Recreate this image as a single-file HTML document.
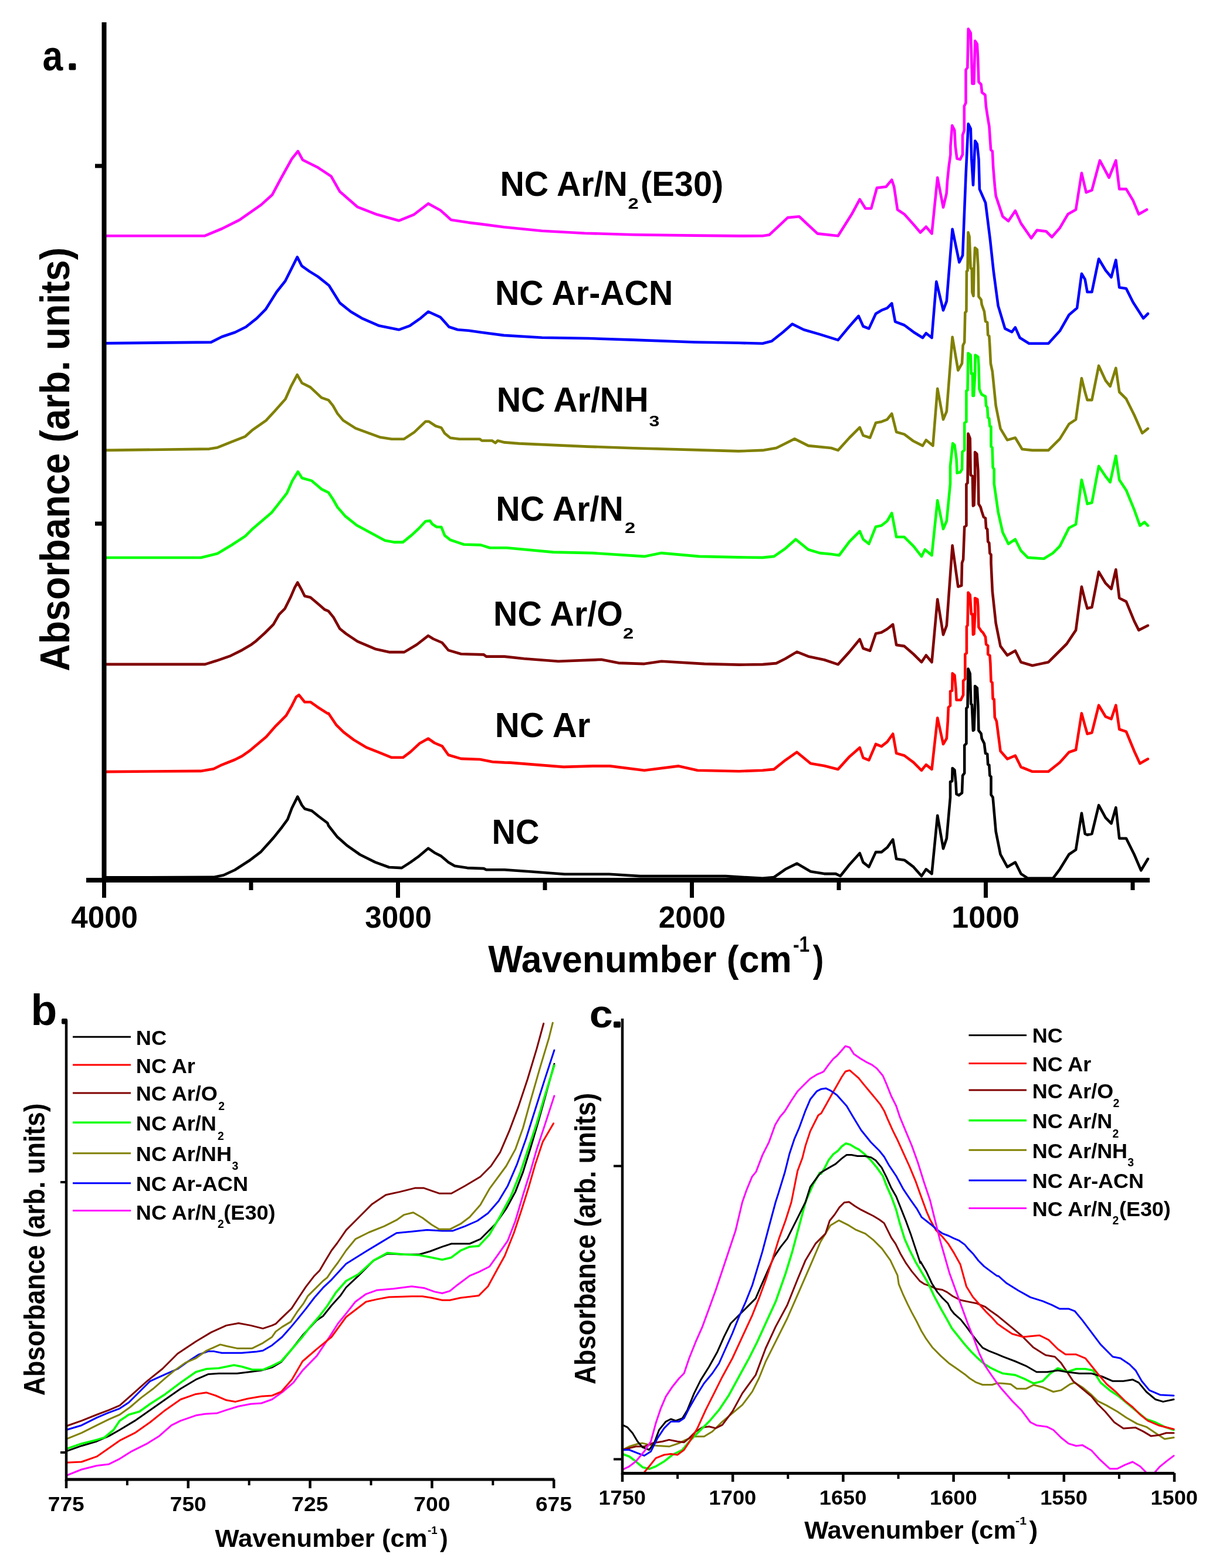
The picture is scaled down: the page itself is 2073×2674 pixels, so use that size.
<!DOCTYPE html>
<html><head><meta charset="utf-8"><style>html,body{margin:0;padding:0;background:#fff}svg{display:block}</style></head>
<body><svg width="2073" height="2674" viewBox="0 0 2073 2674">
<rect width="2073" height="2674" fill="#fff"/>
<polyline points="179.3,402.3 348.6,402.3 378.4,390.0 408.2,375.1 445.4,349.1 464.0,332.3 478.9,304.4 497.5,270.9 507.9,257.9 516.1,272.8 542.2,285.8 564.5,300.7 579.4,326.8 609.2,352.8 642.6,365.8 679.9,376.3 705.9,365.8 730.1,347.2 750.6,358.4 769.2,375.1 799.0,379.6 820.0,382.1 859.0,387.3 924.0,393.8 996.7,397.7 1079.9,400.3 1183.8,401.6 1259.2,402.4 1300.0,402.3 1311.7,400.4 1342.9,371.1 1362.4,369.2 1393.6,398.4 1428.7,402.3 1452.0,365.3 1465.7,339.9 1475.4,355.5 1485.2,355.5 1494.9,320.4 1510.5,318.5 1520.3,306.8 1524.2,318.5 1530.0,357.5 1541.7,365.3 1557.3,382.8 1569.0,396.5 1578.8,386.7 1588.5,398.4 1598.2,302.9 1608.0,353.6 1613.6,330.0 1615.0,308.8 1617.7,282.7 1620.4,263.5 1620.4,249.8 1623.2,214.0 1627.3,222.3 1628.7,249.8 1631.4,270.4 1636.9,271.8 1641.0,263.5 1641.0,230.5 1643.8,222.3 1643.8,181.1 1646.5,175.6 1646.5,119.3 1649.3,115.2 1650.7,49.2 1654.8,56.1 1656.2,98.7 1657.5,142.6 1660.3,142.6 1661.6,98.7 1662.3,69.8 1665.8,75.3 1667.1,98.7 1668.5,139.9 1672.6,144.0 1674.0,157.7 1679.5,161.9 1680.9,181.1 1683.6,199.0 1686.4,215.4 1689.1,255.3 1691.9,258.0 1693.2,285.5 1696.0,318.5 1697.7,334.1 1709.4,369.2 1719.1,377.0 1730.8,359.4 1740.5,380.9 1758.1,406.2 1767.8,392.6 1783.4,394.5 1793.2,404.3 1806.8,388.7 1820.5,365.3 1834.1,357.5 1843.9,295.1 1851.7,328.2 1861.4,324.3 1875.0,273.7 1890.6,302.9 1902.3,273.7 1908.2,322.4 1919.9,322.4 1931.6,341.9 1941.3,365.3 1955.0,357.5" fill="none" stroke="#ff00ff" stroke-width="4.6" stroke-linejoin="round" stroke-linecap="round" />
<polyline points="179.3,585.4 359.8,583.6 378.4,574.3 400.7,566.8 419.3,557.5 438.0,542.6 452.8,527.7 471.5,498.0 486.3,479.3 497.5,457.0 506.8,438.4 514.3,453.3 527.3,462.6 542.2,471.9 560.8,486.8 579.4,516.6 598.0,531.5 616.6,542.6 646.4,555.6 679.9,562.3 698.5,555.6 717.1,542.6 730.1,531.5 750.6,540.8 765.5,557.5 780.3,562.3 799.0,563.8 820.0,566.7 859.0,571.9 924.0,575.7 1001.9,577.0 1079.9,579.6 1183.8,583.5 1259.2,584.8 1300.0,585.7 1315.6,581.8 1335.1,566.2 1350.7,552.6 1370.2,562.3 1397.5,570.1 1428.7,579.9 1448.1,556.5 1463.7,538.9 1471.5,556.5 1481.3,560.4 1493.0,535.0 1502.7,529.2 1512.5,525.3 1520.3,517.5 1526.1,548.7 1541.7,554.5 1557.3,566.2 1572.9,576.0 1578.8,568.2 1588.5,576.0 1596.3,480.4 1608.0,529.2 1613.8,513.6 1623.6,390.8 1635.3,447.3 1641.1,435.6 1646.5,300.0 1650.7,211.3 1654.8,219.6 1656.2,270.4 1659.0,315.7 1662.3,240.2 1665.8,245.7 1668.5,271.8 1669.9,322.6 1680.1,345.9 1687.9,408.3 1693.8,462.9 1701.6,521.4 1713.3,560.4 1725.0,566.2 1730.8,558.4 1738.6,576.0 1754.2,585.7 1787.3,585.7 1806.8,564.3 1822.4,537.0 1836.1,525.3 1843.9,466.8 1849.7,476.5 1853.6,498.0 1861.4,498.0 1873.1,441.5 1884.8,461.0 1894.5,472.7 1902.3,443.4 1908.2,490.2 1919.9,492.1 1931.6,515.5 1949.1,542.8 1956.9,535.0" fill="none" stroke="#0000ff" stroke-width="4.6" stroke-linejoin="round" stroke-linecap="round" />
<polyline points="179.5,767.9 356.7,765.6 370.8,763.2 394.5,753.7 418.1,744.3 429.9,733.7 453.5,717.1 467.7,701.8 486.6,680.5 496.0,659.2 506.7,639.1 514.9,653.3 529.1,660.4 548.0,678.1 560.0,682.3 567.7,691.9 575.4,705.4 585.0,716.9 606.2,730.4 627.3,738.1 648.5,745.8 667.7,748.7 688.8,748.7 706.2,737.1 725.4,718.8 731.2,718.8 742.7,726.5 752.3,729.4 758.1,739.0 767.7,746.7 783.1,748.7 817.7,748.7 821.5,751.5 838.8,751.5 844.6,755.4 848.5,751.5 860.0,754.4 885.0,756.4 1001.9,761.6 1079.9,764.2 1259.2,769.4 1300.0,767.9 1323.4,764.0 1339.0,756.2 1354.6,748.4 1378.0,760.1 1417.0,764.0 1428.7,767.9 1448.1,746.5 1465.7,728.9 1471.5,742.6 1483.2,746.5 1493.0,721.1 1502.7,719.2 1512.5,715.3 1520.3,705.5 1528.1,736.7 1541.7,740.6 1557.3,752.3 1572.9,760.1 1578.8,750.4 1590.4,760.1 1598.2,662.7 1608.0,715.3 1613.8,701.6 1623.6,574.9 1633.3,631.5 1640.0,619.9 1641.6,589.0 1644.2,583.7 1645.3,533.2 1647.4,531.0 1647.9,462.6 1649.5,461.6 1650.5,396.3 1652.6,403.7 1654.7,457.4 1656.8,458.4 1657.4,498.4 1659.5,504.7 1660.5,457.4 1662.1,422.6 1665.8,425.8 1667.4,454.2 1668.4,505.8 1672.6,511.1 1673.7,519.5 1677.9,531.0 1680.0,547.9 1683.2,550.0 1684.2,571.1 1686.3,573.2 1687.4,590.0 1688.9,619.9 1691.8,633.4 1697.7,691.9 1705.5,730.9 1717.2,750.4 1730.8,746.5 1742.5,766.0 1760.0,767.9 1787.3,767.9 1806.8,748.4 1822.4,723.1 1834.1,715.3 1843.9,645.1 1849.7,668.5 1853.6,682.1 1861.4,682.1 1873.1,623.7 1884.8,649.0 1892.6,658.8 1902.3,627.6 1908.2,668.5 1919.9,680.2 1933.5,707.5 1947.2,738.7 1956.9,730.9" fill="none" stroke="#808000" stroke-width="4.6" stroke-linejoin="round" stroke-linecap="round" />
<polyline points="179.5,951.0 342.5,951.0 370.8,943.9 394.5,929.8 418.1,914.4 429.9,902.6 463.0,874.2 472.4,862.4 489.0,841.2 498.4,819.9 507.9,804.5 514.9,815.2 531.5,819.9 548.0,834.1 560.0,840.0 567.7,851.5 575.4,865.0 588.8,880.4 608.1,895.8 633.1,909.2 656.2,921.7 671.5,924.6 686.9,924.6 702.3,912.1 713.8,901.5 725.4,889.0 733.1,888.1 736.9,893.8 744.6,898.7 752.3,898.7 758.1,913.1 767.7,920.8 779.2,924.6 790.8,928.5 819.6,929.4 835.0,934.2 860.0,934.2 864.0,934.3 943.1,941.6 1010.5,943.1 1098.4,948.9 1127.7,943.1 1192.2,948.9 1260.1,950.4 1300.0,950.9 1319.5,948.9 1339.0,935.3 1356.5,919.7 1378.0,937.2 1397.5,943.1 1417.0,945.0 1430.6,947.0 1448.1,923.6 1465.7,906.0 1471.5,919.7 1481.3,927.5 1493.0,898.2 1502.7,896.3 1512.5,888.5 1520.3,874.9 1528.1,915.8 1541.7,915.8 1557.3,931.4 1571.0,948.9 1576.8,937.2 1588.5,947.0 1598.2,853.4 1608.0,902.1 1613.8,888.5 1620.0,824.9 1620.0,795.0 1624.2,756.1 1627.4,759.2 1630.5,782.4 1631.6,806.6 1636.8,805.5 1640.0,800.3 1640.5,770.8 1644.2,767.6 1644.2,721.3 1647.4,719.2 1647.4,666.6 1649.5,665.5 1650.5,602.4 1654.7,605.5 1655.8,637.1 1657.9,637.1 1658.4,675.0 1660.0,675.0 1662.1,639.2 1662.6,605.5 1667.4,608.7 1668.4,622.4 1669.5,663.4 1671.6,668.7 1673.7,672.9 1680.0,676.0 1681.1,691.8 1683.2,695.0 1684.2,711.8 1686.3,713.9 1687.4,726.6 1689.5,727.6 1689.5,761.3 1691.6,763.4 1692.6,797.1 1694.7,800.3 1694.7,824.9 1701.6,872.9 1709.4,908.0 1719.1,927.5 1730.8,919.7 1740.5,939.2 1752.2,950.9 1779.5,952.8 1795.1,943.1 1806.8,931.4 1822.4,900.2 1834.1,894.3 1843.9,818.3 1849.7,841.7 1853.6,859.3 1861.4,857.3 1873.1,794.9 1884.8,812.5 1892.6,822.2 1902.3,777.4 1908.2,818.3 1919.9,835.9 1933.5,869.0 1943.3,896.3 1951.1,890.4 1956.9,896.3" fill="none" stroke="#00ff00" stroke-width="4.6" stroke-linejoin="round" stroke-linecap="round" />
<polyline points="179.7,1132.9 349.6,1132.9 369.0,1126.8 393.3,1118.3 412.7,1108.6 427.2,1100.1 436.9,1092.8 451.5,1079.5 466.1,1064.9 475.8,1047.9 485.5,1038.2 495.2,1018.8 502.5,1001.8 507.3,993.3 514.6,1006.7 519.4,1016.4 529.2,1018.8 543.7,1031.0 553.4,1039.5 560.0,1042.2 568.6,1052.9 579.4,1072.3 590.1,1080.9 609.5,1093.8 639.6,1106.7 663.3,1112.1 689.1,1112.1 710.6,1099.2 730.0,1084.1 738.6,1089.5 753.7,1096.0 764.4,1108.9 786.0,1115.3 824.7,1116.4 829.0,1119.6 860.0,1119.6 893.3,1123.3 951.9,1127.7 1025.1,1124.8 1054.4,1130.6 1098.4,1132.1 1127.7,1127.7 1201.0,1132.1 1260.1,1133.6 1300.0,1133.1 1323.4,1131.1 1339.0,1123.3 1358.5,1111.6 1378.0,1119.4 1405.3,1125.3 1428.7,1133.1 1448.1,1111.6 1465.7,1090.2 1471.5,1105.8 1483.2,1109.7 1493.0,1080.4 1502.7,1078.5 1512.5,1072.7 1522.2,1064.9 1528.1,1099.9 1541.7,1101.9 1557.3,1115.5 1571.0,1129.2 1578.8,1117.5 1588.5,1129.2 1598.2,1022.0 1608.0,1082.4 1613.8,1066.8 1623.6,930.4 1633.3,1000.5 1639.2,998.6 1640.0,959.9 1642.1,954.2 1644.2,898.4 1647.4,896.3 1647.4,825.8 1649.5,823.7 1650.5,739.5 1653.7,747.9 1654.7,810.0 1657.9,812.1 1658.9,862.6 1660.5,861.6 1662.1,810.0 1662.1,771.1 1665.3,774.2 1667.4,802.6 1668.4,859.5 1671.6,864.7 1673.7,872.1 1676.8,881.6 1680.0,883.7 1681.1,900.5 1683.2,902.6 1684.2,923.7 1686.3,925.8 1687.4,943.7 1689.5,945.8 1689.5,959.9 1691.8,1008.3 1697.7,1062.9 1705.5,1101.9 1717.2,1117.5 1730.8,1109.7 1740.5,1129.2 1760.0,1135.0 1787.3,1129.2 1799.0,1117.5 1818.5,1098.0 1834.1,1074.6 1843.9,1000.5 1849.7,1023.9 1853.6,1037.6 1861.4,1035.6 1873.1,975.2 1884.8,994.7 1894.5,1004.4 1902.3,971.3 1908.2,1020.0 1919.9,1025.9 1933.5,1059.0 1941.3,1074.6 1956.9,1066.8" fill="none" stroke="#800000" stroke-width="4.6" stroke-linejoin="round" stroke-linecap="round" />
<polyline points="179.7,1316.1 342.3,1314.9 364.1,1311.2 376.3,1305.2 400.5,1295.5 412.7,1289.4 424.8,1280.9 439.4,1268.8 453.9,1256.6 468.5,1239.7 475.8,1232.4 487.9,1220.2 497.6,1203.3 504.9,1188.7 509.7,1185.1 519.4,1197.2 529.2,1197.2 541.3,1205.7 558.3,1216.6 560.0,1216.5 572.9,1235.8 585.8,1248.7 603.0,1261.6 624.6,1274.6 646.1,1283.2 667.6,1291.8 687.0,1291.8 699.9,1282.1 714.9,1268.1 730.0,1259.5 740.8,1267.0 753.7,1272.4 764.4,1287.5 786.0,1293.9 818.2,1295.0 839.8,1299.3 860.0,1300.4 869.8,1300.6 960.7,1307.9 1010.5,1306.4 1039.8,1306.4 1098.4,1313.8 1157.0,1306.4 1189.2,1313.8 1260.1,1315.2 1300.0,1313.8 1319.5,1311.9 1339.0,1296.3 1358.5,1282.7 1381.9,1302.1 1405.3,1306.0 1428.7,1311.9 1448.1,1290.4 1465.7,1274.9 1471.5,1292.4 1481.3,1296.3 1493.0,1269.0 1502.7,1272.9 1512.5,1265.1 1522.2,1251.5 1528.1,1284.6 1541.7,1288.5 1557.3,1300.2 1571.0,1313.8 1578.8,1304.1 1588.5,1311.9 1598.2,1224.2 1608.0,1269.0 1613.8,1259.3 1615.8,1229.9 1616.8,1206.3 1620.0,1203.2 1620.0,1178.9 1623.2,1177.9 1623.7,1148.4 1627.4,1151.6 1629.5,1174.7 1630.5,1193.7 1637.9,1193.7 1642.1,1185.3 1642.1,1161.1 1645.3,1157.9 1645.3,1115.8 1647.9,1113.7 1647.9,1068.4 1649.5,1066.3 1650.5,1010.5 1653.7,1014.7 1655.8,1047.4 1657.9,1047.4 1658.9,1082.1 1660.5,1081.1 1662.1,1047.4 1662.1,1020.0 1666.3,1022.1 1667.4,1035.8 1668.4,1069.5 1672.6,1075.8 1675.8,1078.9 1680.0,1086.3 1681.1,1098.9 1684.2,1101.1 1684.2,1115.8 1687.4,1117.9 1688.4,1131.6 1689.5,1162.1 1691.6,1164.2 1692.6,1191.6 1694.7,1192.6 1695.8,1223.2 1698.9,1229.9 1705.5,1280.7 1717.2,1294.3 1730.8,1288.5 1740.5,1308.0 1760.0,1315.8 1787.3,1315.8 1806.8,1300.2 1822.4,1282.7 1834.1,1278.8 1843.9,1216.4 1849.7,1237.8 1853.6,1251.5 1861.4,1249.5 1873.1,1202.7 1884.8,1222.2 1894.5,1226.1 1902.3,1202.7 1908.2,1243.7 1919.9,1247.6 1933.5,1280.7 1943.3,1302.1 1956.9,1294.3" fill="none" stroke="#ff0000" stroke-width="4.6" stroke-linejoin="round" stroke-linecap="round" />
<polyline points="179.7,1496.4 364.1,1495.9 381.1,1492.5 400.5,1483.5 424.8,1467.8 444.2,1453.2 466.1,1428.9 480.6,1410.7 490.3,1397.4 497.6,1378.0 507.3,1358.6 514.6,1373.1 519.4,1379.2 531.6,1382.8 543.7,1392.5 558.3,1403.5 560.0,1408.0 575.1,1427.3 592.3,1442.4 613.8,1457.5 639.6,1470.4 663.3,1479.0 684.8,1480.1 699.9,1470.4 714.9,1459.6 730.0,1446.7 740.8,1454.2 751.5,1459.6 764.4,1470.4 775.2,1476.8 796.7,1480.1 824.7,1481.1 829.0,1483.3 860.0,1483.3 906.2,1486.5 962.4,1490.8 1038.5,1490.8 1091.4,1494.1 1170.8,1494.1 1237.0,1494.1 1300.0,1497.9 1319.5,1496.0 1339.0,1482.3 1358.5,1472.6 1381.9,1486.2 1405.3,1490.1 1424.8,1490.1 1432.6,1494.0 1448.1,1474.5 1465.7,1455.0 1471.5,1470.6 1481.3,1478.4 1493.0,1453.1 1502.7,1453.1 1512.5,1445.3 1522.2,1431.6 1528.1,1464.8 1541.7,1466.7 1557.3,1478.4 1571.0,1494.0 1578.8,1482.3 1588.5,1490.1 1598.2,1390.7 1608.0,1447.2 1613.8,1429.7 1620.0,1359.9 1620.0,1333.2 1623.2,1332.1 1623.7,1310.0 1627.4,1313.2 1629.5,1335.3 1630.5,1354.2 1634.7,1356.3 1640.0,1352.1 1641.1,1322.6 1644.2,1318.4 1644.2,1271.1 1647.4,1267.9 1647.4,1207.9 1649.5,1205.8 1650.5,1140.5 1653.7,1148.9 1655.3,1200.5 1656.8,1201.6 1658.9,1245.8 1660.5,1244.7 1662.1,1200.5 1662.1,1170.0 1665.8,1173.2 1667.4,1202.6 1668.4,1245.8 1672.6,1251.1 1673.7,1259.5 1677.9,1267.9 1680.0,1284.7 1683.2,1285.8 1684.2,1303.7 1686.3,1304.7 1687.4,1322.6 1689.5,1324.7 1689.5,1355.3 1692.6,1359.9 1697.7,1418.0 1705.5,1457.0 1717.2,1478.4 1730.8,1470.6 1740.5,1490.1 1752.2,1497.9 1795.1,1497.9 1806.8,1482.3 1822.4,1457.0 1834.1,1449.2 1843.9,1386.8 1849.7,1421.9 1853.6,1423.8 1861.4,1421.9 1873.1,1373.2 1884.8,1394.6 1894.5,1404.3 1902.3,1377.1 1908.2,1429.7 1919.9,1429.7 1933.5,1457.0 1945.2,1484.3 1956.9,1464.8" fill="none" stroke="#000000" stroke-width="4.6" stroke-linejoin="round" stroke-linecap="round" />
<line x1="177.5" y1="38" x2="177.5" y2="1505" stroke="#000" stroke-width="8"/>
<line x1="147" y1="1501" x2="1960" y2="1501" stroke="#000" stroke-width="8"/>
<line x1="162" y1="283" x2="178" y2="283" stroke="#000" stroke-width="7"/>
<line x1="162" y1="893" x2="178" y2="893" stroke="#000" stroke-width="7"/>
<line x1="177.5" y1="1501" x2="177.5" y2="1531" stroke="#000" stroke-width="7"/>
<line x1="678.5" y1="1501" x2="678.5" y2="1531" stroke="#000" stroke-width="7"/>
<line x1="1179.5" y1="1501" x2="1179.5" y2="1531" stroke="#000" stroke-width="7"/>
<line x1="1680.5" y1="1501" x2="1680.5" y2="1531" stroke="#000" stroke-width="7"/>
<line x1="428.0" y1="1501" x2="428.0" y2="1518" stroke="#000" stroke-width="7"/>
<line x1="929.0" y1="1501" x2="929.0" y2="1518" stroke="#000" stroke-width="7"/>
<line x1="1430.0" y1="1501" x2="1430.0" y2="1518" stroke="#000" stroke-width="7"/>
<line x1="1931.0" y1="1501" x2="1931.0" y2="1518" stroke="#000" stroke-width="7"/>
<g font-family="Liberation Sans, Arial, sans-serif" font-weight="bold" fill="#000">
<text x="121.3" y="1582.0" font-size="51.5" textLength="113.7" lengthAdjust="spacingAndGlyphs">4000</text>
<text x="622.3" y="1582.0" font-size="51.5" textLength="113.7" lengthAdjust="spacingAndGlyphs">3000</text>
<text x="1122.8" y="1582.0" font-size="51.5" textLength="114.2" lengthAdjust="spacingAndGlyphs">2000</text>
<text x="1622.2" y="1582.0" font-size="51.5" textLength="115.9" lengthAdjust="spacingAndGlyphs">1000</text>
<text x="832.2" y="1657.6" font-size="64.6" textLength="517.6" lengthAdjust="spacingAndGlyphs">Wavenumber (cm</text>
<text x="1352.0" y="1623.0" font-size="36.0" textLength="28.2" lengthAdjust="spacingAndGlyphs">-1</text>
<text x="1385.8" y="1657.6" font-size="64.6" textLength="18.6" lengthAdjust="spacingAndGlyphs">)</text>
<text transform="translate(118.0,1144.8) rotate(-90)" font-size="71.0" textLength="722.9" lengthAdjust="spacingAndGlyphs">Absorbance (arb. units)</text>
<text x="852.4" y="334.0" font-size="60.0" textLength="217.5" lengthAdjust="spacingAndGlyphs">NC Ar/N</text>
<text x="1070.5" y="356.0" font-size="25.5" textLength="18.2" lengthAdjust="spacingAndGlyphs">2</text>
<text x="1092.1" y="334.0" font-size="60.0" textLength="141.1" lengthAdjust="spacingAndGlyphs">(E30)</text>
<text x="844.0" y="520.0" font-size="60.0" textLength="303.3" lengthAdjust="spacingAndGlyphs">NC Ar-ACN</text>
<text x="846.7" y="702.0" font-size="60.0" textLength="258.9" lengthAdjust="spacingAndGlyphs">NC Ar/NH</text>
<text x="1106.4" y="726.5" font-size="25.5" textLength="17.8" lengthAdjust="spacingAndGlyphs">3</text>
<text x="845.3" y="887.5" font-size="60.0" textLength="217.5" lengthAdjust="spacingAndGlyphs">NC Ar/N</text>
<text x="1065.0" y="909.0" font-size="25.5" textLength="18.2" lengthAdjust="spacingAndGlyphs">2</text>
<text x="841.0" y="1067.0" font-size="60.0" textLength="220.7" lengthAdjust="spacingAndGlyphs">NC Ar/O</text>
<text x="1062.0" y="1089.0" font-size="25.5" textLength="18.2" lengthAdjust="spacingAndGlyphs">2</text>
<text x="843.8" y="1256.7" font-size="60.0" textLength="162.7" lengthAdjust="spacingAndGlyphs">NC Ar</text>
<text x="838.6" y="1438.8" font-size="60.0" textLength="80.8" lengthAdjust="spacingAndGlyphs">NC</text>
<text x="72.6" y="119.8" font-size="72.5" textLength="34.7" lengthAdjust="spacingAndGlyphs">a</text>
<rect x="117.5" y="108" width="11.8" height="11.5" rx="2"/>
</g>
<defs><clipPath id="cb"><rect x="100" y="1742" width="860" height="781"/></clipPath><clipPath id="cc"><rect x="1058" y="1737" width="960" height="775.5"/></clipPath></defs>
<g clip-path="url(#cb)">
<polyline points="113.0,2516.4 139.0,2506.0 165.0,2499.5 185.8,2496.9 204.0,2487.8 224.7,2474.8 250.7,2461.9 271.5,2448.9 292.3,2430.7 307.9,2422.9 333.9,2413.8 349.5,2411.2 370.3,2409.9 385.9,2404.7 406.7,2398.2 427.4,2394.3 445.6,2393.0 463.8,2386.5 482.0,2373.5 500.2,2357.9 515.8,2337.1 540.0,2312.4 561.6,2280.0 576.2,2257.0 590.0,2240.1 605.8,2220.0 624.0,2206.8 642.1,2200.3 670.7,2197.7 701.9,2193.8 722.7,2196.4 740.9,2202.9 753.9,2205.5 766.9,2201.6 779.9,2191.2 800.7,2175.6 816.3,2169.1 834.4,2160.0 847.4,2141.8 865.6,2115.8 878.6,2082.0 891.6,2037.8 904.6,1996.3 915.0,1959.9 928.0,1920.9 944.9,1868.9" fill="none" stroke="#ff00ff" stroke-width="3" stroke-linejoin="round" stroke-linecap="round" />
<polyline points="113.0,2494.3 139.0,2493.0 165.0,2483.9 185.8,2469.6 204.0,2456.7 229.9,2443.7 255.9,2425.5 281.9,2404.7 307.9,2386.5 333.9,2377.4 352.1,2374.8 367.7,2380.0 385.9,2387.8 401.5,2390.4 422.2,2385.2 445.6,2381.3 463.8,2380.0 479.4,2373.5 497.6,2352.7 515.8,2321.5 540.0,2300.7 565.2,2280.0 590.0,2246.0 624.0,2220.0 642.1,2215.9 662.9,2212.0 701.9,2210.7 720.1,2210.7 735.7,2213.3 753.9,2217.2 766.9,2217.2 785.1,2213.3 805.9,2210.7 816.3,2209.4 831.9,2193.8 847.4,2165.2 860.4,2141.8 876.0,2102.8 889.0,2063.8 902.0,2022.2 912.4,1985.9 925.4,1946.9 943.6,1915.7" fill="none" stroke="#ff0000" stroke-width="3" stroke-linejoin="round" stroke-linecap="round" />
<polyline points="113.0,2474.8 139.0,2465.7 165.0,2458.0 185.8,2448.9 204.0,2438.5 229.9,2422.9 255.9,2404.7 281.9,2386.5 307.9,2368.3 333.9,2352.7 354.7,2343.6 372.9,2342.3 404.1,2342.3 424.8,2339.7 445.6,2337.1 463.8,2331.9 479.4,2322.8 497.6,2300.7 515.8,2277.3 540.0,2251.4 550.6,2244.5 565.2,2226.2 579.9,2210.1 590.0,2195.5 611.0,2175.6 636.9,2149.6 660.3,2137.9 688.9,2139.2 714.9,2139.2 733.1,2134.0 753.9,2126.2 769.5,2121.0 800.7,2121.0 818.9,2113.2 844.8,2087.2 863.0,2061.2 878.6,2032.6 891.6,1998.9 904.6,1957.3 917.6,1913.1 930.6,1866.3 944.9,1814.3" fill="none" stroke="#000000" stroke-width="3" stroke-linejoin="round" stroke-linecap="round" />
<polyline points="113.0,2470.9 139.0,2461.9 165.0,2455.4 178.0,2451.5 193.6,2438.5 204.0,2422.9 219.5,2412.5 237.7,2407.3 255.9,2394.3 281.9,2377.4 307.9,2357.9 333.9,2339.7 352.1,2334.5 372.9,2333.2 398.9,2328.0 411.9,2330.6 430.0,2335.8 448.2,2335.8 463.8,2329.3 479.4,2321.5 497.6,2300.7 515.4,2280.0 528.6,2262.9 543.3,2246.0 557.9,2227.0 572.6,2204.2 590.0,2184.5 611.0,2173.0 636.9,2149.6 660.3,2136.6 688.9,2139.2 714.9,2140.5 735.7,2144.4 753.9,2148.3 769.5,2144.4 785.1,2132.7 800.7,2126.2 816.3,2124.9 834.4,2105.4 852.6,2074.2 870.8,2040.4 886.4,2001.5 899.4,1962.5 915.0,1915.7 928.0,1871.5 944.9,1816.9" fill="none" stroke="#00ff00" stroke-width="3.6" stroke-linejoin="round" stroke-linecap="round" />
<polyline points="113.0,2438.5 139.0,2430.7 165.0,2417.7 183.2,2409.9 204.0,2402.1 219.5,2391.7 237.7,2373.5 255.9,2355.3 281.9,2343.6 302.7,2334.5 320.9,2321.5 339.1,2309.8 354.7,2304.6 365.1,2304.6 378.1,2307.2 411.9,2307.2 437.8,2305.1 448.2,2303.3 463.8,2294.2 481.0,2280.0 495.6,2263.6 506.6,2250.4 521.3,2232.1 535.9,2213.0 550.6,2196.2 565.2,2182.3 590.0,2155.2 624.0,2134.0 649.9,2118.4 675.9,2102.8 701.9,2100.2 727.9,2097.6 753.9,2098.9 772.1,2098.9 792.9,2091.1 813.7,2082.0 831.9,2069.0 850.0,2048.2 865.6,2022.2 881.2,1985.9 896.8,1941.7 912.4,1892.3 928.0,1842.9 944.9,1791.0" fill="none" stroke="#0000ff" stroke-width="3" stroke-linejoin="round" stroke-linecap="round" />
<polyline points="113.0,2454.1 139.0,2443.7 165.0,2430.7 185.8,2420.3 204.0,2412.5 222.1,2399.5 240.3,2383.9 261.1,2368.3 281.9,2350.1 297.5,2337.1 315.7,2324.1 333.9,2316.3 352.1,2303.3 375.5,2292.9 385.9,2295.5 404.1,2299.4 430.0,2299.4 448.2,2290.3 463.8,2279.9 470.0,2270.9 481.0,2262.9 495.6,2254.1 506.6,2237.2 517.6,2222.6 524.9,2210.1 535.9,2199.1 550.6,2184.5 557.9,2178.6 565.2,2167.6 576.2,2153.0 590.0,2132.5 605.8,2113.2 629.1,2101.5 655.1,2091.1 675.9,2080.7 688.9,2071.6 704.5,2067.7 720.1,2076.8 735.7,2088.5 748.7,2096.3 766.9,2096.3 785.1,2087.2 800.7,2075.5 818.9,2054.7 834.4,2027.4 863.0,1988.5 878.6,1959.9 891.6,1923.5 904.6,1876.7 920.2,1822.1 935.8,1770.2 942.3,1744.2" fill="none" stroke="#808000" stroke-width="3" stroke-linejoin="round" stroke-linecap="round" />
<polyline points="113.0,2432.0 139.0,2422.9 165.0,2412.5 185.8,2404.7 204.0,2396.9 224.7,2378.7 250.7,2355.3 276.7,2334.5 302.7,2308.5 333.9,2287.7 359.9,2272.1 385.9,2260.4 406.7,2256.5 427.4,2260.4 448.2,2265.6 463.8,2260.4 470.0,2257.7 477.3,2250.4 497.1,2231.4 506.6,2216.7 521.3,2194.7 535.9,2175.7 544.7,2166.9 554.2,2150.8 565.2,2132.5 574.8,2120.0 590.2,2097.6 611.0,2076.8 634.3,2053.4 657.7,2037.8 681.1,2032.6 707.1,2026.1 722.7,2026.1 748.7,2035.2 769.5,2035.2 792.9,2022.2 818.9,2006.7 837.0,1988.5 852.6,1965.1 868.2,1928.7 883.8,1887.1 899.4,1840.3 915.0,1788.4 926.7,1745.5" fill="none" stroke="#800000" stroke-width="3" stroke-linejoin="round" stroke-linecap="round" />
</g>
<line x1="113" y1="1740" x2="113" y2="2526" stroke="#000" stroke-width="4.5"/>
<line x1="111" y1="2523" x2="945" y2="2523" stroke="#000" stroke-width="5"/>
<line x1="103" y1="2016" x2="113" y2="2016" stroke="#000" stroke-width="4"/>
<line x1="103" y1="2477" x2="113" y2="2477" stroke="#000" stroke-width="4"/>
<line x1="113.0" y1="2523" x2="113.0" y2="2538" stroke="#000" stroke-width="4.5"/>
<line x1="320.8" y1="2523" x2="320.8" y2="2538" stroke="#000" stroke-width="4.5"/>
<line x1="528.6" y1="2523" x2="528.6" y2="2538" stroke="#000" stroke-width="4.5"/>
<line x1="736.4000000000001" y1="2523" x2="736.4000000000001" y2="2538" stroke="#000" stroke-width="4.5"/>
<line x1="944.2" y1="2523" x2="944.2" y2="2538" stroke="#000" stroke-width="4.5"/>
<line x1="216.9" y1="2523" x2="216.9" y2="2533" stroke="#000" stroke-width="4"/>
<line x1="424.70000000000005" y1="2523" x2="424.70000000000005" y2="2533" stroke="#000" stroke-width="4"/>
<line x1="632.5" y1="2523" x2="632.5" y2="2533" stroke="#000" stroke-width="4"/>
<line x1="840.3000000000001" y1="2523" x2="840.3000000000001" y2="2533" stroke="#000" stroke-width="4"/>
<line x1="124" y1="1768.3" x2="223" y2="1768.3" stroke="#000000" stroke-width="3"/>
<line x1="124" y1="1815.9" x2="223" y2="1815.9" stroke="#ff0000" stroke-width="3"/>
<line x1="124" y1="1864" x2="223" y2="1864" stroke="#800000" stroke-width="3"/>
<line x1="124" y1="1914.2" x2="223" y2="1914.2" stroke="#00ff00" stroke-width="3.6"/>
<line x1="124" y1="1966.7" x2="223" y2="1966.7" stroke="#808000" stroke-width="3"/>
<line x1="124" y1="2017.8" x2="223" y2="2017.8" stroke="#0000ff" stroke-width="3"/>
<line x1="124" y1="2064.5" x2="223" y2="2064.5" stroke="#ff00ff" stroke-width="3"/>
<g font-family="Liberation Sans, Arial, sans-serif" font-weight="bold" fill="#000">
<text x="231.8" y="1781.9" font-size="35.4" textLength="52.2" lengthAdjust="spacingAndGlyphs">NC</text>
<text x="231.8" y="1829.5" font-size="35.4" textLength="101.0" lengthAdjust="spacingAndGlyphs">NC Ar</text>
<text x="231.8" y="1877.0" font-size="35.4" textLength="139.1" lengthAdjust="spacingAndGlyphs">NC Ar/O</text>
<text x="231.8" y="1927.8" font-size="35.4" textLength="137.1" lengthAdjust="spacingAndGlyphs">NC Ar/N</text>
<text x="231.8" y="1980.3" font-size="35.4" textLength="163.2" lengthAdjust="spacingAndGlyphs">NC Ar/NH</text>
<text x="231.8" y="2030.5" font-size="35.4" textLength="191.2" lengthAdjust="spacingAndGlyphs">NC Ar-ACN</text>
<text x="231.8" y="2079.5" font-size="35.4" textLength="137.1" lengthAdjust="spacingAndGlyphs">NC Ar/N</text>
<text x="372.3" y="1893.3" font-size="19.4" textLength="10.8" lengthAdjust="spacingAndGlyphs">2</text>
<text x="370.9" y="1943.6" font-size="19.4" textLength="10.8" lengthAdjust="spacingAndGlyphs">2</text>
<text x="395.6" y="1995.2" font-size="19.4" textLength="10.8" lengthAdjust="spacingAndGlyphs">3</text>
<text x="370.9" y="2094.4" font-size="19.4" textLength="10.8" lengthAdjust="spacingAndGlyphs">2</text>
<text x="381.3" y="2079.5" font-size="35.4" textLength="88.3" lengthAdjust="spacingAndGlyphs">(E30)</text>
<text x="81.7" y="2576.8" font-size="35.8" textLength="62.1" lengthAdjust="spacingAndGlyphs">775</text>
<text x="289.7" y="2576.8" font-size="35.8" textLength="62.1" lengthAdjust="spacingAndGlyphs">750</text>
<text x="497.3" y="2576.8" font-size="35.8" textLength="62.1" lengthAdjust="spacingAndGlyphs">725</text>
<text x="705.3" y="2576.8" font-size="35.8" textLength="62.1" lengthAdjust="spacingAndGlyphs">700</text>
<text x="912.9" y="2576.8" font-size="35.8" textLength="62.1" lengthAdjust="spacingAndGlyphs">675</text>
<text x="366.5" y="2637.8" font-size="42.3" textLength="362.0" lengthAdjust="spacingAndGlyphs">Wavenumber (cm</text>
<text x="729.0" y="2616.0" font-size="18.0" textLength="16.6" lengthAdjust="spacingAndGlyphs">-1</text>
<text x="750.0" y="2637.8" font-size="42.3" textLength="13.7" lengthAdjust="spacingAndGlyphs">)</text>
<text transform="translate(75.5,2379.9) rotate(-90)" font-size="50.1" textLength="498.4" lengthAdjust="spacingAndGlyphs">Absorbance (arb. units)</text>
<text x="52.6" y="1748.0" font-size="74.5" textLength="44.7" lengthAdjust="spacingAndGlyphs">b</text>
</g>
<rect x="105" y="1737" width="10" height="9.6" rx="2"/>
<g clip-path="url(#cc)">
<polyline points="1060.8,2472.5 1072.7,2466.8 1086.9,2462.5 1095.4,2461.1 1106.7,2463.9 1120.9,2465.4 1140.7,2466.8 1157.7,2461.1 1169.1,2455.4 1183.3,2449.8 1200.3,2449.8 1214.4,2441.3 1231.5,2424.3 1248.5,2410.1 1265.5,2395.9 1282.5,2373.2 1293.8,2350.5 1305.2,2322.2 1322.2,2288.2 1342.0,2248.5 1361.9,2203.1 1381.7,2157.7 1398.7,2118.0 1415.7,2089.7 1429.9,2081.2 1446.9,2089.7 1458.3,2096.8 1475.3,2103.9 1489.5,2115.2 1503.6,2129.4 1517.8,2149.2 1530.0,2174.8 1532.2,2189.9 1539.0,2206.3 1547.3,2224.2 1554.2,2237.9 1562.4,2253.0 1570.6,2269.5 1578.9,2283.2 1589.9,2298.3 1603.6,2312.1 1617.3,2324.4 1631.1,2334.1 1644.8,2343.7 1653.0,2350.5 1664.0,2357.4 1675.0,2361.5 1691.5,2361.5 1700.0,2358.8 1709.9,2359.2 1722.9,2360.5 1733.3,2368.3 1748.9,2368.3 1761.9,2361.8 1777.5,2365.7 1795.7,2373.5 1808.7,2370.9 1824.3,2360.5 1832.1,2357.9 1845.1,2365.7 1860.7,2378.7 1871.1,2389.1 1886.7,2396.9 1904.8,2407.3 1920.4,2417.7 1938.6,2428.1 1954.2,2433.3 1969.8,2443.7 1985.4,2454.1 2001.0,2451.5" fill="none" stroke="#808000" stroke-width="3" stroke-linejoin="round" stroke-linecap="round" />
<polyline points="1060.8,2472.5 1072.7,2469.6 1084.0,2466.8 1098.2,2466.8 1112.4,2461.1 1129.4,2458.3 1140.7,2455.4 1154.9,2458.3 1166.2,2459.7 1174.8,2452.6 1186.1,2441.3 1197.4,2434.2 1208.8,2432.8 1220.1,2435.6 1231.5,2429.9 1248.5,2407.2 1265.5,2376.1 1288.2,2344.9 1305.2,2299.5 1322.2,2262.6 1342.0,2225.8 1359.0,2183.3 1373.2,2149.2 1390.2,2120.9 1407.2,2103.9 1414.4,2081.8 1422.7,2071.5 1430.9,2059.1 1439.2,2050.8 1447.4,2049.8 1457.7,2057.0 1468.0,2063.2 1478.3,2068.4 1488.6,2073.5 1498.9,2079.7 1507.2,2085.9 1513.3,2098.2 1519.5,2110.6 1526.7,2121.2 1534.9,2137.7 1544.5,2154.2 1554.2,2167.9 1567.9,2184.4 1576.1,2189.9 1584.4,2192.6 1596.7,2198.1 1606.3,2199.5 1614.6,2203.6 1624.2,2210.5 1637.9,2217.3 1651.7,2220.1 1665.4,2222.8 1679.1,2228.3 1690.1,2236.6 1700.0,2243.4 1725.5,2264.3 1741.1,2277.3 1761.9,2298.1 1782.7,2311.1 1798.3,2313.7 1808.7,2324.1 1819.1,2339.7 1829.5,2355.3 1845.1,2368.3 1860.7,2381.3 1871.1,2394.3 1884.1,2407.3 1899.6,2425.5 1915.2,2435.9 1936.0,2434.6 1949.0,2441.1 1962.0,2448.9 1975.0,2447.6 1988.0,2443.7 2001.0,2443.7" fill="none" stroke="#800000" stroke-width="3" stroke-linejoin="round" stroke-linecap="round" />
<polyline points="1060.8,2479.5 1072.7,2483.8 1084.0,2492.3 1095.4,2502.2 1106.7,2505.1 1118.0,2500.8 1132.2,2492.3 1146.4,2481.0 1163.4,2472.5 1177.6,2455.4 1191.8,2441.3 1208.8,2424.3 1225.8,2404.4 1242.8,2378.9 1259.8,2347.7 1276.8,2316.5 1291.0,2288.2 1305.2,2257.0 1322.2,2220.1 1339.2,2171.9 1350.5,2135.1 1361.9,2092.5 1373.2,2050.0 1375.9,2043.3 1386.7,2018.8 1397.6,1999.8 1400.0,2001.4 1406.2,1991.1 1412.4,1978.7 1420.6,1968.4 1428.8,1962.2 1435.0,1955.0 1442.2,1949.9 1449.5,1951.9 1457.7,1957.1 1463.9,1960.2 1474.2,1968.4 1484.5,1978.7 1494.8,1991.1 1505.1,2005.5 1511.3,2022.0 1519.5,2040.5 1527.8,2063.2 1533.9,2085.9 1542.2,2112.7 1550.4,2131.2 1560.7,2151.8 1581.6,2187.1 1592.6,2210.5 1603.6,2231.1 1614.6,2250.3 1622.8,2265.4 1633.8,2279.1 1644.8,2292.9 1655.8,2305.2 1666.8,2316.2 1677.7,2325.8 1688.7,2332.7 1700.0,2338.2 1709.9,2342.3 1730.7,2344.9 1746.3,2351.4 1761.9,2359.2 1777.5,2355.3 1790.5,2342.3 1803.5,2333.2 1819.1,2339.7 1834.7,2334.5 1850.3,2334.5 1863.3,2337.1 1876.3,2357.9 1891.9,2370.9 1907.4,2381.3 1923.0,2394.3 1938.6,2407.3 1954.2,2420.3 1969.8,2425.5 1985.4,2433.3 2001.0,2438.5" fill="none" stroke="#00ff00" stroke-width="3.6" stroke-linejoin="round" stroke-linecap="round" />
<polyline points="1060.8,2429.9 1069.8,2434.2 1078.4,2444.1 1086.9,2458.3 1095.4,2468.2 1106.7,2472.5 1115.2,2461.1 1123.7,2438.4 1135.1,2424.3 1143.6,2420.0 1152.1,2422.8 1163.4,2418.6 1171.9,2404.4 1183.3,2376.1 1194.6,2353.4 1208.8,2330.7 1223.0,2305.2 1234.3,2279.7 1245.6,2257.0 1259.8,2242.8 1274.0,2228.6 1288.2,2214.4 1296.7,2194.6 1308.0,2169.1 1319.4,2143.6 1330.7,2126.6 1342.0,2112.4 1350.5,2095.4 1361.9,2072.7 1373.2,2050.0 1381.3,2024.2 1394.9,2005.2 1400.0,1999.3 1410.3,1993.1 1424.7,1984.9 1435.0,1975.6 1443.3,1969.5 1451.5,1969.5 1461.8,1971.5 1474.2,1971.5 1484.5,1973.6 1492.7,1978.7 1503.0,1991.1 1511.3,2007.6 1519.5,2026.1 1527.8,2040.5 1536.0,2061.1 1544.2,2081.8 1552.5,2104.4 1560.7,2129.1 1569.0,2153.9 1569.3,2151.4 1578.9,2167.9 1588.5,2188.5 1598.1,2203.6 1606.3,2213.2 1616.0,2222.8 1621.4,2233.8 1626.9,2240.7 1637.9,2250.3 1647.5,2262.6 1658.5,2277.7 1668.1,2290.1 1675.0,2298.3 1686.0,2303.8 1700.0,2309.3 1709.9,2313.7 1730.7,2321.5 1748.9,2329.3 1767.1,2339.7 1785.3,2339.7 1803.5,2337.1 1819.1,2339.7 1839.9,2342.3 1860.7,2342.3 1878.9,2347.5 1897.0,2355.3 1915.2,2355.3 1930.8,2352.7 1941.2,2357.9 1954.2,2373.5 1969.8,2386.5 1982.8,2390.4 2001.0,2386.5" fill="none" stroke="#000000" stroke-width="3" stroke-linejoin="round" stroke-linecap="round" />
<polyline points="1060.8,2512.1 1067.0,2515.0 1078.4,2520.7 1092.5,2517.8 1106.7,2500.8 1118.0,2486.6 1132.2,2481.0 1143.6,2479.5 1154.9,2481.0 1166.2,2472.5 1177.6,2455.4 1188.9,2435.6 1203.1,2404.4 1217.3,2376.1 1231.5,2347.7 1248.5,2316.5 1265.5,2279.7 1282.5,2242.8 1293.8,2214.4 1305.2,2183.3 1316.5,2149.2 1327.9,2112.4 1339.2,2081.2 1349.1,2050.0 1359.6,1997.1 1367.7,1975.3 1373.2,1953.6 1381.3,1929.1 1394.9,1902.0 1400.0,1898.4 1408.2,1883.9 1418.5,1865.4 1426.8,1851.0 1435.0,1836.5 1441.2,1827.3 1448.4,1825.2 1455.6,1831.4 1463.9,1838.6 1472.1,1848.9 1482.4,1861.3 1492.7,1873.6 1501.0,1883.9 1507.2,1894.2 1513.3,1908.7 1521.6,1927.2 1529.8,1943.7 1540.1,1966.4 1550.4,1989.0 1560.7,2013.8 1571.0,2042.6 1579.3,2065.3 1585.5,2079.7 1595.8,2098.2 1606.1,2108.5 1616.4,2120.9 1626.7,2137.4 1637.0,2155.9 1647.5,2194.0 1658.5,2211.8 1669.5,2224.2 1680.5,2236.6 1691.5,2247.5 1700.0,2257.1 1709.9,2264.3 1725.5,2274.7 1743.7,2279.9 1759.3,2278.6 1772.3,2277.3 1787.9,2285.1 1803.5,2300.7 1816.5,2309.8 1834.7,2309.8 1850.3,2316.3 1860.7,2329.3 1871.1,2342.3 1886.7,2360.5 1902.2,2373.5 1917.8,2389.1 1930.8,2399.5 1943.8,2412.5 1956.8,2422.9 1975.0,2430.7 2001.0,2437.2" fill="none" stroke="#ff0000" stroke-width="3" stroke-linejoin="round" stroke-linecap="round" />
<polyline points="1060.8,2472.5 1072.7,2472.5 1086.9,2478.1 1098.2,2482.4 1109.5,2475.3 1120.9,2452.6 1132.2,2435.6 1143.6,2424.3 1157.7,2424.3 1166.2,2418.6 1174.8,2401.6 1186.1,2381.7 1200.3,2359.0 1214.4,2342.0 1225.8,2325.0 1237.1,2299.5 1248.5,2274.0 1259.8,2245.6 1271.2,2220.1 1282.5,2191.8 1291.0,2163.4 1299.5,2135.1 1310.8,2092.5 1322.2,2050.0 1327.0,2035.1 1337.8,1999.8 1346.0,1967.2 1354.1,1942.7 1362.3,1923.7 1373.2,1893.8 1381.3,1874.8 1392.2,1861.2 1400.0,1857.2 1408.2,1856.1 1416.5,1860.2 1426.8,1867.5 1435.0,1876.7 1443.3,1886.0 1453.6,1903.5 1468.0,1927.2 1484.5,1947.8 1498.9,1962.2 1507.2,1972.5 1515.4,1987.0 1527.8,2005.5 1540.1,2028.2 1552.5,2046.7 1562.8,2061.1 1571.0,2075.6 1587.1,2088.2 1596.7,2096.5 1606.3,2103.3 1617.3,2107.5 1625.6,2111.6 1635.2,2115.7 1644.8,2122.6 1650.3,2129.4 1658.5,2137.7 1668.1,2150.0 1677.7,2159.6 1688.7,2167.9 1700.0,2176.1 1702.1,2176.0 1715.1,2187.7 1735.9,2200.7 1756.7,2212.4 1777.5,2218.9 1793.1,2225.4 1806.1,2231.9 1821.7,2231.9 1832.1,2235.8 1845.1,2251.4 1860.7,2272.1 1876.3,2292.9 1897.0,2313.7 1910.0,2316.3 1925.6,2326.7 1936.0,2337.1 1946.4,2355.3 1959.4,2370.9 1977.6,2378.7 2001.0,2380.0" fill="none" stroke="#0000ff" stroke-width="3" stroke-linejoin="round" stroke-linecap="round" />
<polyline points="1060.8,2506.5 1072.7,2500.8 1084.0,2492.3 1098.2,2475.3 1109.5,2458.3 1118.0,2427.1 1126.6,2401.6 1135.1,2381.7 1146.4,2364.7 1157.7,2350.5 1166.2,2342.0 1174.8,2316.5 1186.1,2288.2 1197.4,2262.6 1208.8,2231.5 1220.1,2200.3 1231.5,2166.2 1242.8,2132.2 1254.1,2098.2 1265.5,2050.0 1272.6,2029.7 1282.1,2006.6 1288.9,1998.4 1299.8,1969.9 1310.7,1948.2 1321.5,1918.3 1329.7,1904.7 1337.8,1895.2 1348.7,1877.5 1359.6,1861.2 1370.4,1850.3 1381.3,1839.5 1392.2,1832.7 1400.0,1829.3 1404.1,1827.3 1412.4,1815.9 1420.6,1805.6 1426.8,1800.5 1435.0,1791.2 1441.2,1784.0 1448.4,1786.1 1455.6,1797.4 1465.9,1804.6 1476.2,1810.8 1486.5,1815.9 1494.8,1822.1 1505.1,1834.5 1511.3,1848.9 1519.5,1869.5 1527.8,1886.0 1533.9,1904.5 1544.2,1929.3 1554.5,1954.0 1564.8,1982.8 1575.1,2015.8 1585.5,2046.7 1593.7,2079.7 1601.9,2112.7 1610.2,2141.5 1618.4,2170.4 1650.3,2258.5 1659.9,2281.9 1669.5,2308.0 1679.1,2328.6 1690.1,2345.0 1700.0,2358.8 1707.3,2368.3 1725.5,2389.1 1741.1,2404.7 1756.7,2425.5 1767.1,2430.7 1785.3,2433.3 1795.7,2438.5 1808.7,2451.5 1821.7,2461.9 1834.7,2465.7 1845.1,2464.4 1860.7,2473.5 1873.7,2487.8 1891.9,2504.7 1904.8,2504.7 1917.8,2498.2 1930.8,2493.0 1943.8,2500.8 1954.2,2511.2 1967.2,2512.5 1977.6,2500.8 1990.6,2490.4 2001.0,2482.6" fill="none" stroke="#ff00ff" stroke-width="3" stroke-linejoin="round" stroke-linecap="round" />
</g>
<line x1="1061" y1="1737" x2="1061" y2="2515" stroke="#000" stroke-width="4.5"/>
<line x1="1059" y1="2512.5" x2="2002" y2="2512.5" stroke="#000" stroke-width="5"/>
<line x1="1046" y1="1988.5" x2="1061" y2="1988.5" stroke="#000" stroke-width="4"/>
<line x1="1046" y1="2488.5" x2="1061" y2="2488.5" stroke="#000" stroke-width="4"/>
<line x1="1061.0" y1="2512" x2="1061.0" y2="2527" stroke="#000" stroke-width="4.5"/>
<line x1="1249.2" y1="2512" x2="1249.2" y2="2527" stroke="#000" stroke-width="4.5"/>
<line x1="1437.4" y1="2512" x2="1437.4" y2="2527" stroke="#000" stroke-width="4.5"/>
<line x1="1625.6" y1="2512" x2="1625.6" y2="2527" stroke="#000" stroke-width="4.5"/>
<line x1="1813.8" y1="2512" x2="1813.8" y2="2527" stroke="#000" stroke-width="4.5"/>
<line x1="2002.0" y1="2512" x2="2002.0" y2="2527" stroke="#000" stroke-width="4.5"/>
<line x1="1155.1" y1="2512" x2="1155.1" y2="2522" stroke="#000" stroke-width="4"/>
<line x1="1343.3" y1="2512" x2="1343.3" y2="2522" stroke="#000" stroke-width="4"/>
<line x1="1531.5" y1="2512" x2="1531.5" y2="2522" stroke="#000" stroke-width="4"/>
<line x1="1719.6999999999998" y1="2512" x2="1719.6999999999998" y2="2522" stroke="#000" stroke-width="4"/>
<line x1="1907.8999999999999" y1="2512" x2="1907.8999999999999" y2="2522" stroke="#000" stroke-width="4"/>
<line x1="1651.5" y1="1765.6" x2="1750" y2="1765.6" stroke="#000000" stroke-width="3"/>
<line x1="1651.5" y1="1813.4" x2="1750" y2="1813.4" stroke="#ff0000" stroke-width="3"/>
<line x1="1651.5" y1="1858.9" x2="1750" y2="1858.9" stroke="#800000" stroke-width="3"/>
<line x1="1651.5" y1="1910.8" x2="1750" y2="1910.8" stroke="#00ff00" stroke-width="3.6"/>
<line x1="1651.5" y1="1961.2" x2="1750" y2="1961.2" stroke="#808000" stroke-width="3"/>
<line x1="1651.5" y1="2013.1" x2="1750" y2="2013.1" stroke="#0000ff" stroke-width="3"/>
<line x1="1651.5" y1="2060.5" x2="1750" y2="2060.5" stroke="#ff00ff" stroke-width="3"/>
<g font-family="Liberation Sans, Arial, sans-serif" font-weight="bold" fill="#000">
<text x="1759.8" y="1778.4" font-size="35.2" textLength="51.9" lengthAdjust="spacingAndGlyphs">NC</text>
<text x="1759.8" y="1827.0" font-size="35.2" textLength="100.4" lengthAdjust="spacingAndGlyphs">NC Ar</text>
<text x="1759.8" y="1872.5" font-size="35.2" textLength="138.3" lengthAdjust="spacingAndGlyphs">NC Ar/O</text>
<text x="1759.8" y="1924.1" font-size="35.2" textLength="136.3" lengthAdjust="spacingAndGlyphs">NC Ar/N</text>
<text x="1759.8" y="1974.8" font-size="35.2" textLength="162.2" lengthAdjust="spacingAndGlyphs">NC Ar/NH</text>
<text x="1759.8" y="2026.4" font-size="35.2" textLength="190.1" lengthAdjust="spacingAndGlyphs">NC Ar-ACN</text>
<text x="1759.8" y="2073.8" font-size="35.2" textLength="136.3" lengthAdjust="spacingAndGlyphs">NC Ar/N</text>
<text x="1897.4" y="1888.3" font-size="19.4" textLength="10.8" lengthAdjust="spacingAndGlyphs">2</text>
<text x="1896.4" y="1939.5" font-size="19.4" textLength="10.8" lengthAdjust="spacingAndGlyphs">2</text>
<text x="1922.2" y="1989.4" font-size="19.4" textLength="10.8" lengthAdjust="spacingAndGlyphs">3</text>
<text x="1896.4" y="2087.8" font-size="19.4" textLength="10.8" lengthAdjust="spacingAndGlyphs">2</text>
<text x="1908.0" y="2073.8" font-size="35.2" textLength="87.8" lengthAdjust="spacingAndGlyphs">(E30)</text>
<text x="1020.4" y="2566.0" font-size="35.0" textLength="80.6" lengthAdjust="spacingAndGlyphs">1750</text>
<text x="1208.6" y="2566.0" font-size="35.0" textLength="80.6" lengthAdjust="spacingAndGlyphs">1700</text>
<text x="1396.8" y="2566.0" font-size="35.0" textLength="80.6" lengthAdjust="spacingAndGlyphs">1650</text>
<text x="1585.0" y="2566.0" font-size="35.0" textLength="80.6" lengthAdjust="spacingAndGlyphs">1600</text>
<text x="1773.2" y="2566.0" font-size="35.0" textLength="80.6" lengthAdjust="spacingAndGlyphs">1550</text>
<text x="1961.4" y="2566.0" font-size="35.0" textLength="80.6" lengthAdjust="spacingAndGlyphs">1500</text>
<text x="1371.2" y="2624.3" font-size="42.5" textLength="360.9" lengthAdjust="spacingAndGlyphs">Wavenumber (cm</text>
<text x="1731.1" y="2599.5" font-size="18.0" textLength="19.0" lengthAdjust="spacingAndGlyphs">-1</text>
<text x="1754.4" y="2624.3" font-size="42.5" textLength="14.8" lengthAdjust="spacingAndGlyphs">)</text>
<text transform="translate(1015.3,2360.8) rotate(-90)" font-size="50.1" textLength="497.0" lengthAdjust="spacingAndGlyphs">Absorbance (arb. units)</text>
<text x="1004.8" y="1751.8" font-size="66.7" textLength="40.1" lengthAdjust="spacingAndGlyphs">c</text>
</g>
<rect x="1046" y="1742" width="12" height="10.5" rx="2"/>
</svg></body></html>
